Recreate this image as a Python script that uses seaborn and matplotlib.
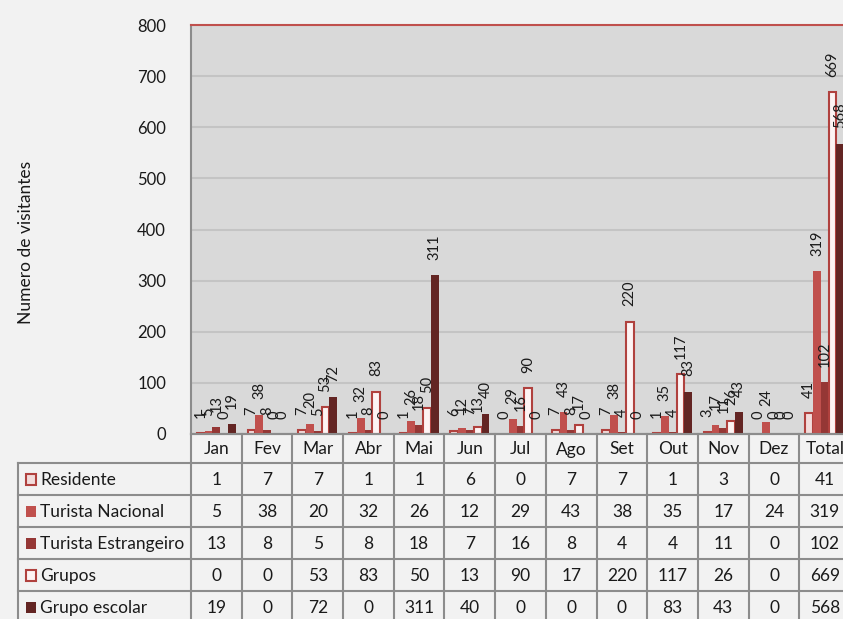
import pandas as pd
import matplotlib.pyplot as plt
import seaborn as sns
from matplotlib.patches import Rectangle

meses = ["Jan", "Fev", "Mar", "Abr", "Mai", "Jun", "Jul", "Ago", "Set", "Out", "Nov", "Dez", "Total"]
tipos = ["Residente", "Turista Nacional", "Turista Estrangeiro", "Grupos", "Grupo escolar"]
residente = [1, 7, 7, 1, 1, 6, 0, 7, 7, 1, 3, 0, 41]
turista_nacional = [5, 38, 20, 32, 26, 12, 29, 43, 38, 35, 17, 24, 319]
turista_estrangeiro = [13, 8, 5, 8, 18, 7, 16, 8, 4, 4, 11, 0, 102]
grupos = [0, 0, 53, 83, 50, 13, 90, 17, 220, 117, 26, 0, 669]
grupo_escolar = [19, 0, 72, 0, 311, 40, 0, 0, 0, 83, 43, 0, 568]

series = [residente, turista_nacional, turista_estrangeiro, grupos, grupo_escolar]
cores = ["#F2DCDB", "#C0504D", "#953735", "#FDF3F3", "#632523"]
bordas = ["#B0413E", None, None, "#B0413E", None]

linhas = []
for tipo, vals in zip(tipos, series):
    for m, v in zip(meses, vals):
        linhas.append({"mes": m, "tipo": tipo, "valor": v})
df = pd.DataFrame(linhas)

fundo = "#F2F2F2"
plt.rcParams["font.family"] = ["Lato", "DejaVu Sans"]

W, H = 843, 619
fig = plt.figure(figsize=(W / 100, H / 100), dpi=100, facecolor=fundo)

# eixo das barras (a coluna Total fica cortada a direita, como no original)
col = 50.7
x_esq, y_topo, y_zero = 191, 25, 434
ax = fig.add_axes([x_esq / W, (H - y_zero) / H, 13 * col / W, (y_zero - y_topo) / H])
ax.set_facecolor("#D9D9D9")

sns.barplot(data=df, x="mes", y="valor", hue="tipo", order=meses, hue_order=tipos,
            palette=cores, saturation=1, width=0.77, legend=False, ax=ax, zorder=3)

for c, vals, borda in zip(ax.containers, series, bordas):
    if borda:
        for p, v in zip(c, vals):
            p.set_edgecolor(borda)
            p.set_linewidth(1.5 if v > 0 else 0)
    else:
        for p in c:
            p.set_linewidth(0)
    ax.bar_label(c, labels=[str(v) for v in vals], rotation=90, padding=11,
                 fontsize=10.5, color="#1a1a1a")

ax.set_ylim(0, 800)
ax.set_xlim(-0.5, 12.5)
ax.set_yticks(range(0, 801, 100))
ax.yaxis.grid(True, color="#C4C4C4", linewidth=1.5, zorder=0)
ax.set_axisbelow(True)
ax.tick_params(axis="y", length=0, pad=18, labelsize=12, colors="#1a1a1a")
ax.tick_params(axis="x", length=0)
ax.set_xticklabels([])
ax.set_xlabel("")
ax.set_ylabel("")
for lado in ["top", "right"]:
    ax.spines[lado].set_color("#C0504D")
    ax.spines[lado].set_linewidth(1.5)
ax.spines["left"].set_color("#8C8C8C")
ax.spines["left"].set_linewidth(1.5)
ax.spines["bottom"].set_color("#8C8C8C")
ax.spines["bottom"].set_linewidth(1.5)

fig.text(26 / W, 1 - 242 / H, "Numero de visitantes", rotation=90,
         ha="center", va="center", fontsize=12.5, color="#1a1a1a")

# tabela de dados por baixo do grafico
x_tab = 18
linhas_y = [0, 29, 61, 93, 125, 157, 189]
x0 = -0.5 - (x_esq - x_tab) / col
tax = fig.add_axes([x_tab / W, (H - y_zero - linhas_y[-1]) / H,
                    (x_esq + 13 * col - x_tab) / W, linhas_y[-1] / H])
tax.set_xlim(x0, 12.5)
tax.set_ylim(linhas_y[-1], 0)
tax.axis("off")

cor_linha = "#8C8C8C"
for i in range(14):
    tax.plot([i - 0.5, i - 0.5], [0, linhas_y[-1]], color=cor_linha, lw=1.5, clip_on=False)
tax.plot([x0, x0], [linhas_y[1], linhas_y[-1]], color=cor_linha, lw=1.5, clip_on=False)
tax.plot([-0.5, 12.5], [0, 0], color=cor_linha, lw=1.5, clip_on=False)
for yy in linhas_y[1:]:
    tax.plot([x0, 12.5], [yy, yy], color=cor_linha, lw=1.5, clip_on=False)

for i, m in enumerate(meses):
    tax.text(i, (linhas_y[0] + linhas_y[1]) / 2 + 1, m, ha="center", va="center",
             fontsize=12.5, color="#1a1a1a")

for r, (tipo, vals, cor, borda) in enumerate(zip(tipos, series, cores, bordas)):
    yc = (linhas_y[r + 1] + linhas_y[r + 2]) / 2 + 1
    tax.add_patch(Rectangle((x0 + 8 / col, yc - 6), 10 / col, 11,
                            facecolor=cor, edgecolor=borda if borda else cor,
                            lw=1.5 if borda else 0))
    tax.text(x0 + 22 / col, yc, tipo, ha="left", va="center", fontsize=12.5, color="#1a1a1a")
    for i, v in enumerate(vals):
        tax.text(i, yc, str(v), ha="center", va="center", fontsize=12.5, color="#1a1a1a")

fig.savefig("out.png", dpi=100, facecolor=fundo)
